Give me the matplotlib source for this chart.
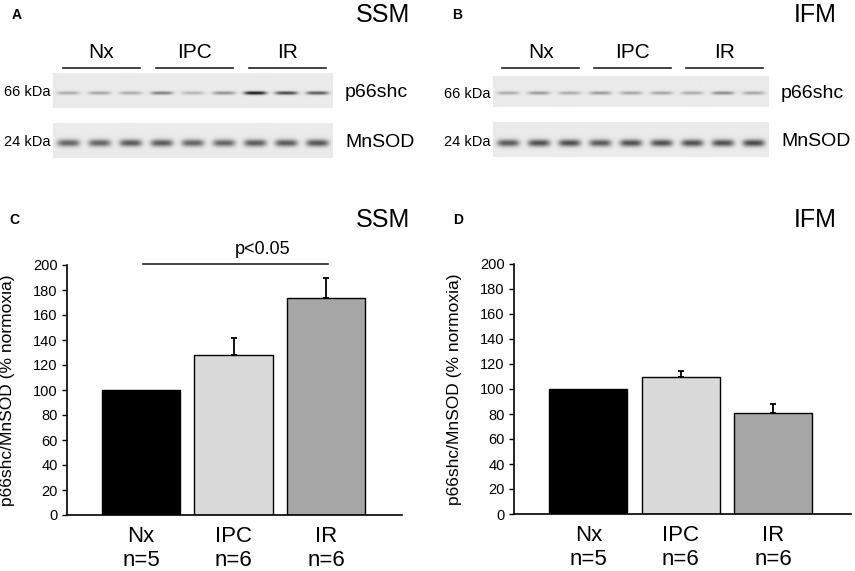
import numpy as np
import matplotlib
matplotlib.use('Agg')
import matplotlib.pyplot as plt

plt.rcParams['font.family'] = ['Liberation Sans', 'DejaVu Sans']

groups = ['Nx', 'IPC', 'IR']
n_per_group = ['n=5', 'n=6', 'n=6']
bar_colors = ['#000000', '#d9d9d9', '#a6a6a6']
yticks = [0, 20, 40, 60, 80, 100, 120, 140, 160, 180, 200]

# p66shc/MnSOD (% normoxia), mean and upper SEM
ssm_mean = [100, 128, 173.5]
ssm_err = [0, 14, 16.5]
ifm_mean = [100, 110, 80.5]
ifm_err = [0, 4.5, 7.5]

# band darkness per lane (3 lanes per group), read by eye off the blots
ssm_p66 = [0.24, 0.26, 0.24, 0.40, 0.20, 0.34, 0.80, 0.62, 0.55]
ssm_mnsod = [0.52, 0.52, 0.56, 0.56, 0.52, 0.52, 0.56, 0.56, 0.58]
ifm_p66 = [0.24, 0.30, 0.24, 0.30, 0.26, 0.26, 0.24, 0.36, 0.26]
ifm_mnsod = [0.56, 0.60, 0.60, 0.56, 0.60, 0.60, 0.60, 0.60, 0.62]

W, H = 855, 571
fig = plt.figure(figsize=(W / 100, H / 100), dpi=100)

# overlay in pixel coordinates for the blot panels and labels
ov = fig.add_axes([0, 0, 1, 1])
ov.set_xlim(0, W)
ov.set_ylim(H, 0)
ov.axis('off')


def blot_image(darkness, width, height, band_y, band_h):
    x = np.arange(width) + 0.5
    y = np.arange(height) + 0.5
    pitch = width / len(darkness)
    img = np.full((height, width), 0.92)
    for i, d in enumerate(darkness):
        c = (i + 0.5) * pitch
        hx = np.exp(-((x - c) / (pitch * 0.36)) ** 4)
        vy = np.exp(-((y - band_y) / band_h) ** 2)
        img -= d * np.outer(vy, hx)
    return img


def blot_panel(letter, title, left, right, title_right, p66, mnsod, strips):
    ov.text(left - 41, 15, letter, fontsize=10, fontweight='bold', ha='left', va='center')
    ov.text(title_right, 15, title, fontsize=18, ha='right', va='center')
    pitch = (right - left) / 9
    for g, name in enumerate(groups):
        cx = left + (3 * g + 1.5) * pitch + 2
        ov.plot([cx - 38.5, cx + 38.5], [68, 68], color='#222222', lw=1.2)
        ov.text(cx, 53, name, fontsize=15, ha='center', va='center')
    for (top, bot, band_y, band_h, kda, prot), dark in zip(strips, [p66, mnsod]):
        img = blot_image(dark, int(right - left), int(bot - top), band_y, band_h)
        ov.imshow(img, cmap='gray', vmin=0, vmax=1, extent=(left, right, bot, top),
                  aspect='auto', interpolation='bilinear')
        ov.text(left - 3, (top + bot) / 2 + 2, kda, fontsize=10.5, ha='right', va='center')
        ov.text(right + 13, (top + bot) / 2 + 2, prot, fontsize=14, ha='left', va='center')


blot_panel('A', 'SSM', 53, 332, 410, ssm_p66, ssm_mnsod,
           [(73, 108, 20, 1.8, '66 kDa', 'p66shc'), (123, 158, 20, 3.6, '24 kDa', 'MnSOD')])
blot_panel('B', 'IFM', 493, 768, 837, ifm_p66, ifm_mnsod,
           [(76, 107, 17, 1.8, '66 kDa', 'p66shc'), (122, 157, 21, 3.6, '24 kDa', 'MnSOD')])


def bar_panel(letter, title, rect, means, errs, xlim, letter_x, title_right):
    ax = fig.add_axes(rect)
    x = np.arange(len(groups))
    ax.bar(x, means, width=0.845, color=bar_colors, edgecolor='black', linewidth=1, zorder=2)
    errs = np.array(errs)
    m = errs > 0
    ax.errorbar(x[m], np.array(means)[m], yerr=[np.zeros(m.sum()), errs[m]], fmt='none',
                ecolor='black', elinewidth=1.3, capsize=2, capthick=1.3, zorder=3)
    ax.set_ylim(0, 200)
    ax.set_xlim(*xlim)
    ax.set_yticks(yticks)
    ax.set_xticks(x, [f'{g}\n{n}' for g, n in zip(groups, n_per_group)])
    for lbl in ax.get_xticklabels():
        lbl.set_fontsize(16)
        lbl.set_linespacing(1.15)
    ax.tick_params(axis='x', length=0, pad=8)
    ax.tick_params(axis='y', length=3.6, width=1, pad=3, labelsize=10.5, direction='out')
    for s in ['top', 'right']:
        ax.spines[s].set_visible(False)
    for s in ['left', 'bottom']:
        ax.spines[s].set_linewidth(1.2)
    ax.set_ylabel('p66shc/MnSOD (% normoxia)', fontsize=12.5)
    ax.yaxis.set_label_coords(-0.155, 0.5)
    ov.text(letter_x, 220, letter, fontsize=10, fontweight='bold', ha='left', va='center')
    ov.text(title_right, 220, title, fontsize=18, ha='right', va='center')
    return ax


axc = bar_panel('C', 'SSM', [67 / W, 1 - 515 / H, 335 / W, 250 / H], ssm_mean, ssm_err,
                (-0.8, 2.82), 9, 410)
axc.plot([0.02, 2.02], [200.5, 200.5], color='#222222', lw=1.2, clip_on=False)
axc.text(1.31, 212, 'p<0.05', fontsize=13, ha='center', va='center')

axd = bar_panel('D', 'IFM', [514 / W, 1 - 514 / H, 337 / W, 250 / H], ifm_mean, ifm_err,
                (-0.805, 2.84), 453, 837)

fig.savefig('out.png', dpi=100)
